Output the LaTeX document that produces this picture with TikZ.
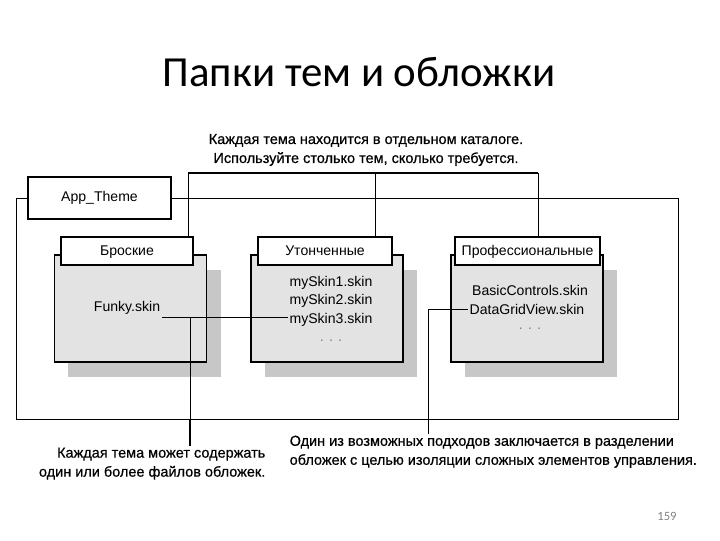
\documentclass[tikz,border=0pt]{standalone}
\usepackage{fontspec}
\setmainfont{Liberation Sans}
\newfontfamily\titlefont{Carlito}
\newfontfamily\notefont[FakeBold=0.6]{Liberation Sans}
\usetikzlibrary{positioning,calc}
\definecolor{bodygray}{gray}{0.89}
\definecolor{shadegray}{gray}{0.78}

\begin{document}
\begin{tikzpicture}[x=0.025cm, y=-0.025cm,
  folderbody/.style={draw, line width=0.9pt, fill=bodygray, minimum width=3.8cm, minimum height=2.675cm, inner sep=0pt},
  foldershade/.style={fill=shadegray, minimum width=3.8cm, minimum height=2.675cm, inner sep=0pt},
  foldertab/.style={draw, line width=0.8pt, fill=white, minimum height=0.7cm, inner sep=0pt, text height=1.6ex, text depth=0.35ex, font=\fontsize{10}{12}\selectfont},
  skinfile/.style={font=\fontsize{10}{12}\selectfont, inner sep=1pt},
  note/.style={font=\notefont\fontsize{10.3}{13.5}\selectfont, inner sep=1pt}]
\useasboundingbox (0,0) rectangle (720,540);

% title
\node[font=\titlefont\fontsize{30.5}{36}\selectfont] (title) at (359,72) {Папки тем и обложки};

% root folder and frame
\node[draw, line width=0.8pt, minimum width=3.575cm, minimum height=1.05cm, font=\fontsize{10}{12}\selectfont] (app) at (99.5,198) {App\_Theme};
\coordinate (frBR) at (678,419);
\coordinate (frBL) at (16,419);
\draw[line width=0.7pt] (app.east) -- (app.east -| frBR) -- (frBR) -- (frBL) -- (frBL |- app.west) -- (app.west);

% theme folders
\node[foldershade] (shBr) at (144.5,323.5) {};
\node[folderbody] (bBr) at (130.5,308.5) {};
\node[foldertab, minimum width=3.3cm] (tBr) at (127,251) {Броские};

\node[foldershade] (shUt) at (341,323.5) {};
\node[folderbody] (bUt) at (327,308.5) {};
\node[foldertab, minimum width=3.35cm] (tUt) at (325,251) {Утонченные};

\node[foldershade] (shPr) at (541,323.5) {};
\node[folderbody] (bPr) at (527,308.5) {};
\node[foldertab, minimum width=3.625cm] (tPr) at (527.5,251) {Профессиональные};

% skin files
\node[skinfile] (funky) at (127,308) {Funky.skin};
\node[skinfile] (skin1) at (331,283) {mySkin1.skin};
\node[skinfile] (skin2) at (331,301) {mySkin2.skin};
\node[skinfile] (skin3) at (331,320) {mySkin3.skin};
\node[skinfile, text=gray] (dotsUt) at (331,341) {. . .};
\node[skinfile] (basic) at (530,290) {BasicControls.skin};
\node[skinfile] (grid) at (527,309) {DataGridView.skin};
\node[skinfile, text=gray] (dotsPr) at (530,329) {. . .};

% notes
\node[note, align=center] (noteTop) at (366,150) {Каждая тема находится в отдельном каталоге.\\Используйте столько тем, сколько требуется.};
\node[note, align=right, anchor=north east] (noteL) at (267,446) {Каждая тема может содержать\\один или более файлов обложек.};
\node[note, align=left, anchor=north west] (noteR) at (288,434) {Один из возможных подходов заключается в разделении\\обложек с целью изоляции сложных элементов управления.};

% bracket to the folders
\coordinate (brL) at (188,173);
\coordinate (brM) at (375,173);
\coordinate (brR) at (538,173);
\draw[line width=1.3pt] (brL) -- (brR);
\draw[line width=0.7pt] (brL) -- (brL |- tBr.north);
\draw[line width=0.7pt] (brM) -- (brM |- tUt.north);
\draw[line width=0.7pt] (brR) -- (brR |- tPr.north);

% links from the notes
\coordinate (tapA) at (190,317);
\coordinate (tapB) at (428,309);
\draw[line width=0.7pt] (funky.east |- tapA) -- (skin3.west |- tapA);
\draw[line width=0.7pt] (tapA) -- (tapA |- frBL);
\draw[line width=1.4pt] (tapA |- frBL) -- (tapA |- noteL.north);
\draw[line width=0.7pt] (grid.west) -- (tapB) -- (tapB |- noteR.north);

% page number
\node[font=\titlefont\fontsize{9}{11}\selectfont, text=gray] (page) at (667,516) {159};
\end{tikzpicture}
\end{document}
